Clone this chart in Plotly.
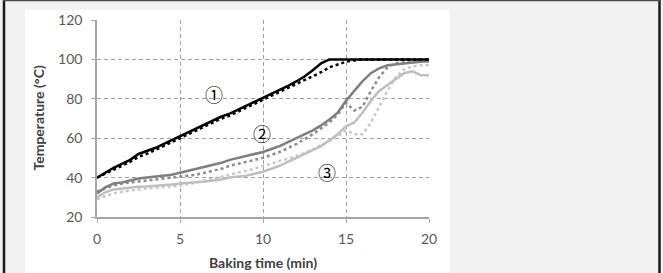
import plotly.graph_objects as go

# ---------------- data ----------------
time_min = [0, 0.5, 1, 1.5, 2, 2.5, 3, 3.5, 4, 4.5, 5, 5.5, 6, 6.5, 7, 7.5, 8, 8.5, 9, 9.5,
            10, 10.5, 11, 11.5, 12, 12.5, 13, 13.5, 14, 14.5, 15, 15.5, 16, 16.5, 17, 17.5,
            18, 18.5, 19, 19.5, 20]

s1_solid = [40, 42.5, 45, 47, 49, 52, 53.5, 55, 57, 59, 61, 63, 65, 67, 69, 71, 72.5, 74.5, 76.5, 78.5,
            80.3, 82.3, 84.3, 86.5, 88.8, 91.3, 94.5, 98, 100, 100, 100, 100, 100, 100, 100, 100,
            100, 100, 100, 100, 100]
s1_dotted = [40, 42, 44, 46, 48, 50.5, 52, 54, 56, 58, 60, 62, 64, 66, 68, 70, 71.5, 73.5, 75.5, 77.5,
             79.5, 81.5, 83.5, 85.5, 87.5, 89.5, 91.5, 93.5, 96, 97.5, 98.8, 99.5, 100, 100, 100, 100,
             100, 100, 100, 100, 100]
s2_solid = [32, 35, 37, 37.5, 38.5, 39.5, 40, 40.5, 41, 41.5, 42.5, 43.5, 44.5, 45.5, 46.5, 47.5, 49, 50, 51, 52,
            53, 54.5, 56, 58, 60, 62, 64, 66.5, 69.5, 73, 79, 84, 89, 93, 95.5, 97,
            97.5, 98, 98.5, 98.8, 99]
s2_dotted = [33, 34.5, 36, 37, 37.5, 38, 38.5, 39, 39.5, 40, 40.5, 41, 41.5, 42.5, 43.5, 44.5, 46, 47, 48, 49,
             50, 51.5, 53, 55, 57, 59.5, 62, 65, 68, 72, 78, 74, 76, 84, 91, 96,
             98, 98.5, 99, 99, 99]
s3_solid = [30, 32.5, 34, 34.5, 35, 35.3, 35.5, 35.8, 36, 36.5, 37, 37.3, 37.5, 38, 38.5, 39, 40, 40.5, 41, 42,
            43, 44.5, 46, 48, 50, 52, 54, 56, 59, 62, 66, 68, 73, 79, 84, 87,
            90, 93, 94, 92, 92]
s3_dotted = [29, 30.5, 32, 32.8, 33.5, 34, 34.5, 34.8, 35, 35.5, 36, 36.7, 37.5, 38.5, 39.5, 40.5, 41.5, 42.5, 43.5, 44.5,
             46, 47, 48.5, 49.5, 51, 52.5, 54.5, 56.5, 58.5, 61, 64, 62, 62, 68, 76, 84,
             91, 95, 96.5, 97, 97]

label_text = ["①", "②", "③"]
label_x = [7.05, 9.95, 13.85]
label_y = [82.4, 62.6, 42.8]

x_ticks = [0, 5, 10, 15, 20]
y_ticks = [20, 40, 60, 80, 100, 120]
x_title = "Baking time (min)"
y_title = "Temperature (°C)"

# ---------------- figure ----------------
W, H = 663, 273
L, R, T, B = 97, 234, 20, 56
pw, ph = W - L - R, H - T - B


def px_x(p):
    return (p - L) / pw


def px_y(p):
    return (H - B - p) / ph


fig = go.Figure()

series = [
    (s1_solid, "#000000", "solid", 2.5),
    (s1_dotted, "#000000", "dot", 2.5),
    (s2_solid, "#7f7f7f", "solid", 2.5),
    (s2_dotted, "#8c8c8c", "dot", 2.5),
    (s3_solid, "#bfbfbf", "solid", 2.5),
    (s3_dotted, "#c8c8c8", "dot", 2.5),
]
for vals, col, dash, w in reversed(series):
    fig.add_trace(go.Scatter(x=time_min, y=vals, mode="lines",
                             line=dict(color=col, dash=dash, width=w),
                             showlegend=False, hoverinfo="skip"))

for t, x, y in zip(label_text, label_x, label_y):
    fig.add_annotation(x=x, y=y, text=t, showarrow=False,
                       font=dict(family="Noto Sans CJK JP", size=18, color="#000000"))

# axis titles placed as annotations
fig.add_annotation(xref="paper", yref="paper", x=px_x(263), y=px_y(262), text="<b>" + x_title + "</b>",
                   showarrow=False, xanchor="center", yanchor="middle",
                   font=dict(family="Lato", size=14, color="#404040"))
fig.add_annotation(xref="paper", yref="paper", x=px_x(38), y=px_y(118.5), text="<b>" + y_title + "</b>",
                   showarrow=False, xanchor="center", yanchor="middle", textangle=-90,
                   font=dict(family="Lato", size=14, color="#404040"))

shapes = [
    dict(type="rect", xref="paper", yref="paper", x0=px_x(25), x1=px_x(450),
         y0=px_y(273), y1=px_y(10), fillcolor="#ffffff", line=dict(width=0), layer="below"),
    dict(type="line", xref="paper", yref="paper", x0=px_x(4), x1=px_x(4),
         y0=px_y(273), y1=px_y(0), line=dict(color="#1a1a1a", width=2.5)),
    dict(type="line", xref="paper", yref="paper", x0=px_x(659.5), x1=px_x(659.5),
         y0=px_y(273), y1=px_y(0), line=dict(color="#1a1a1a", width=2.5)),
    dict(type="line", xref="paper", yref="paper", x0=px_x(3), x1=px_x(661),
         y0=px_y(0.5), y1=px_y(0.5), line=dict(color="#4d4d4d", width=1.5)),
]

fig.update_layout(
    width=W, height=H,
    margin=dict(l=L, r=R, t=T, b=B),
    paper_bgcolor="#f2f2f2",
    plot_bgcolor="rgba(0,0,0,0)",
    shapes=shapes,
    font=dict(family="Lato", color="#595959"),
)

grid_dash = "4px,3px"
fig.update_xaxes(
    range=[0, 20], tickvals=x_ticks, ticktext=[str(v) for v in x_ticks],
    showgrid=True, gridcolor="#a0a0a0", griddash=grid_dash, gridwidth=1,
    showline=True, linecolor="#a6a6a6", linewidth=1.5,
    ticks="outside", ticklen=4, tickcolor="#a6a6a6",
    zeroline=False, tickfont=dict(size=14, color="#595959"),
    ticklabelstandoff=4,
)
fig.update_yaxes(
    range=[20, 120], tickvals=y_ticks, ticktext=[str(v) for v in y_ticks],
    showgrid=True, gridcolor="#a0a0a0", griddash=grid_dash, gridwidth=1,
    showline=True, linecolor="#a6a6a6", linewidth=1.5,
    ticks="outside", ticklen=4, tickcolor="#a6a6a6",
    zeroline=False, tickfont=dict(size=14, color="#595959"),
    ticklabelstandoff=6,
)

fig.write_html("out.html")
